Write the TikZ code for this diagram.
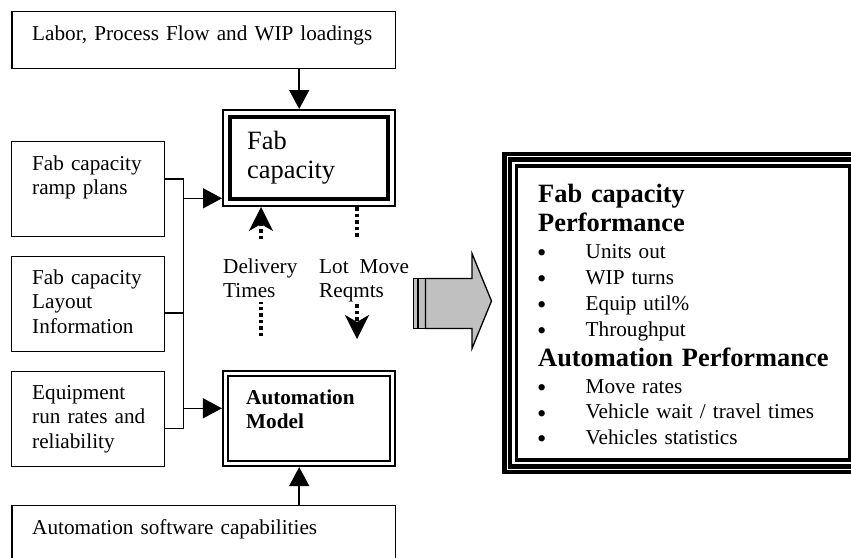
\documentclass[tikz,border=0pt]{standalone}
\usepackage{fontspec}
\setmainfont{Liberation Serif}
\usetikzlibrary{arrows.meta,calc}
\definecolor{arrgray}{RGB}{192,192,192}
\newcommand\txtsz{\fontsize{21.2pt}{24.5pt}\selectfont}
\newcommand\bigsz{\fontsize{26.4pt}{29pt}\selectfont}
\newcommand\itm[1]{\makebox[48.5pt][l]{\raisebox{-3.5pt}{\scalebox{1.25}{\textbullet}}}#1}
\begin{document}
\begin{tikzpicture}[x=1pt,y=-1pt,
 box/.style={draw,line width=1.5pt,inner sep=0pt},
 lbl/.style={inner sep=0pt,anchor=base west,align=left,text width=360pt,font=\txtsz},
 conn/.style={line width=1.5pt},
 arr/.style={conn,-{Triangle[length=19pt,width=20pt]}},
 dotln/.style={line width=4pt,dash pattern=on 3.5pt off 3pt},
 dotarr/.style={dotln,-{Stealth[length=24pt,width=24pt,inset=7pt,line width=0.5pt]}},
 blk/.style={draw=black,fill=arrgray,line width=1.3pt,line join=miter}
]
\useasboundingbox (0,0) rectangle (851,557);

% input boxes
\node[box,minimum width=383.5pt,minimum height=57pt] (top) at (203.5,40) {};
\node[box,minimum width=152.75pt,minimum height=95pt] (b1) at (88.1,189) {};
\node[box,minimum width=152.75pt,minimum height=95pt] (b2) at (88.1,304) {};
\node[box,minimum width=152.75pt,minimum height=95pt] (b3) at (88.1,419) {};
\node[box,minimum width=383.5pt,minimum height=60pt] (bot) at (203.5,535.5) {};

\node[lbl] (ttop) at (32,40) {Labor, Process Flow and WIP loadings};
\node[lbl] (tb1) at (32,170) {Fab capacity\\ramp plans};
\node[lbl] (tb2) at (32,284) {Fab capacity\\Layout\\Information};
\node[lbl] (tb3) at (32,399) {Equipment\\run rates and\\reliability};
\node[lbl] (tbot) at (32,534) {Automation software capabilities};

% fab capacity model
\node[draw,line width=2pt,minimum width=172pt,minimum height=96pt,inner sep=0pt] (fab) at (309,158) {};
\draw[line width=4pt] ($(fab.north west)+(8,8)$) rectangle ($(fab.south east)+(-8,-8)$);
\node[lbl,font=\bigsz] (tfab) at (247,149) {Fab\\capacity};

% automation model
\node[draw,line width=2.2pt,minimum width=172pt,minimum height=95pt,inner sep=0pt] (auto) at (309,418.5) {};
\draw[line width=2.2pt] ($(auto.north west)+(6,6)$) rectangle ($(auto.south east)+(-6,-6)$);
\node[lbl,font=\txtsz\bfseries] (tauto) at (246,404) {Automation\\Model};

% connectors
\coordinate (ax) at (299.2,0);
\draw[arr] (top.south -| ax) -- (fab.north -| ax);
\draw[arr] (bot.north -| ax) -- (auto.south -| ax);
\coordinate (bus1) at (183.3,179);
\coordinate (bus2) at (183.3,313);
\coordinate (bus3) at (183.3,428.3);
\coordinate (busf) at (183.3,198.3);
\coordinate (busa) at (183.3,408.3);
\draw[conn] (b1.east |- bus1) -- (bus1) -- (bus3) -- (b3.east |- bus3);
\draw[conn] (b2.east |- bus2) -- (bus2);
\draw[arr] (busf) -- (fab.west |- busf);
\draw[arr] (busa) -- (auto.west |- busa);

% dotted exchanges
\node[lbl] (dlab) at (223,273) {Delivery\\Times};
\node[lbl] (llab) at (319,273) {Lot\hspace{4pt} Move\\Reqmts};
\coordinate (d1) at (261,336);
\coordinate (d2) at (261,302);
\coordinate (d3) at (261,239);
\draw[dotln] (d1) -- (d2);
\draw[dotarr] (d3) -- (d3 |- fab.south);
\coordinate (l1) at (357,239);
\coordinate (l2) at (357,304);
\coordinate (l3) at (357,339);
\draw[dotln] (l1 |- fab.south) -- (l1);
\draw[dotarr] (l2) -- (l3);

% striped block arrow
\draw[blk] (413.5,278.5) rectangle (418,328.5);
\draw[blk] (418,278.5) rectangle (425.5,328.5);
\draw[blk] (425.5,278.5) -- (472,278.5) -- (472,253.5) -- (491.5,301) -- (472,348.5) -- (472,328.5) -- (425.5,328.5) -- cycle;

% results box
\node[draw,line width=4.3pt,minimum width=357.2pt,minimum height=318pt,inner sep=0pt] (res) at (683.1,313) {};
\draw[line width=4.3pt] ($(res.north west)+(7.75,7.75)$) rectangle ($(res.south east)+(-7.75,-7.75)$);
\draw[line width=3.5pt] ($(res.north west)+(14.35,14.35)$) rectangle ($(res.south east)+(-14.35,-14.35)$);

\node[lbl,font=\bigsz\bfseries] (rt1) at (538,202) {Fab capacity\\Performance};
\node[lbl,font=\fontsize{21.2pt}{26pt}\selectfont] (ri1) at (537,258) {\itm{Units out}\\\itm{WIP turns}\\\itm{Equip util\%}\\\itm{Throughput}};
\node[lbl,font=\bigsz\bfseries] (rt2) at (538,366) {Automation Performance};
\node[lbl,font=\fontsize{21.2pt}{25.5pt}\selectfont] (ri2) at (537,393) {\itm{Move rates}\\\itm{Vehicle wait / travel times}\\\itm{Vehicles statistics}};
\end{tikzpicture}
\end{document}
